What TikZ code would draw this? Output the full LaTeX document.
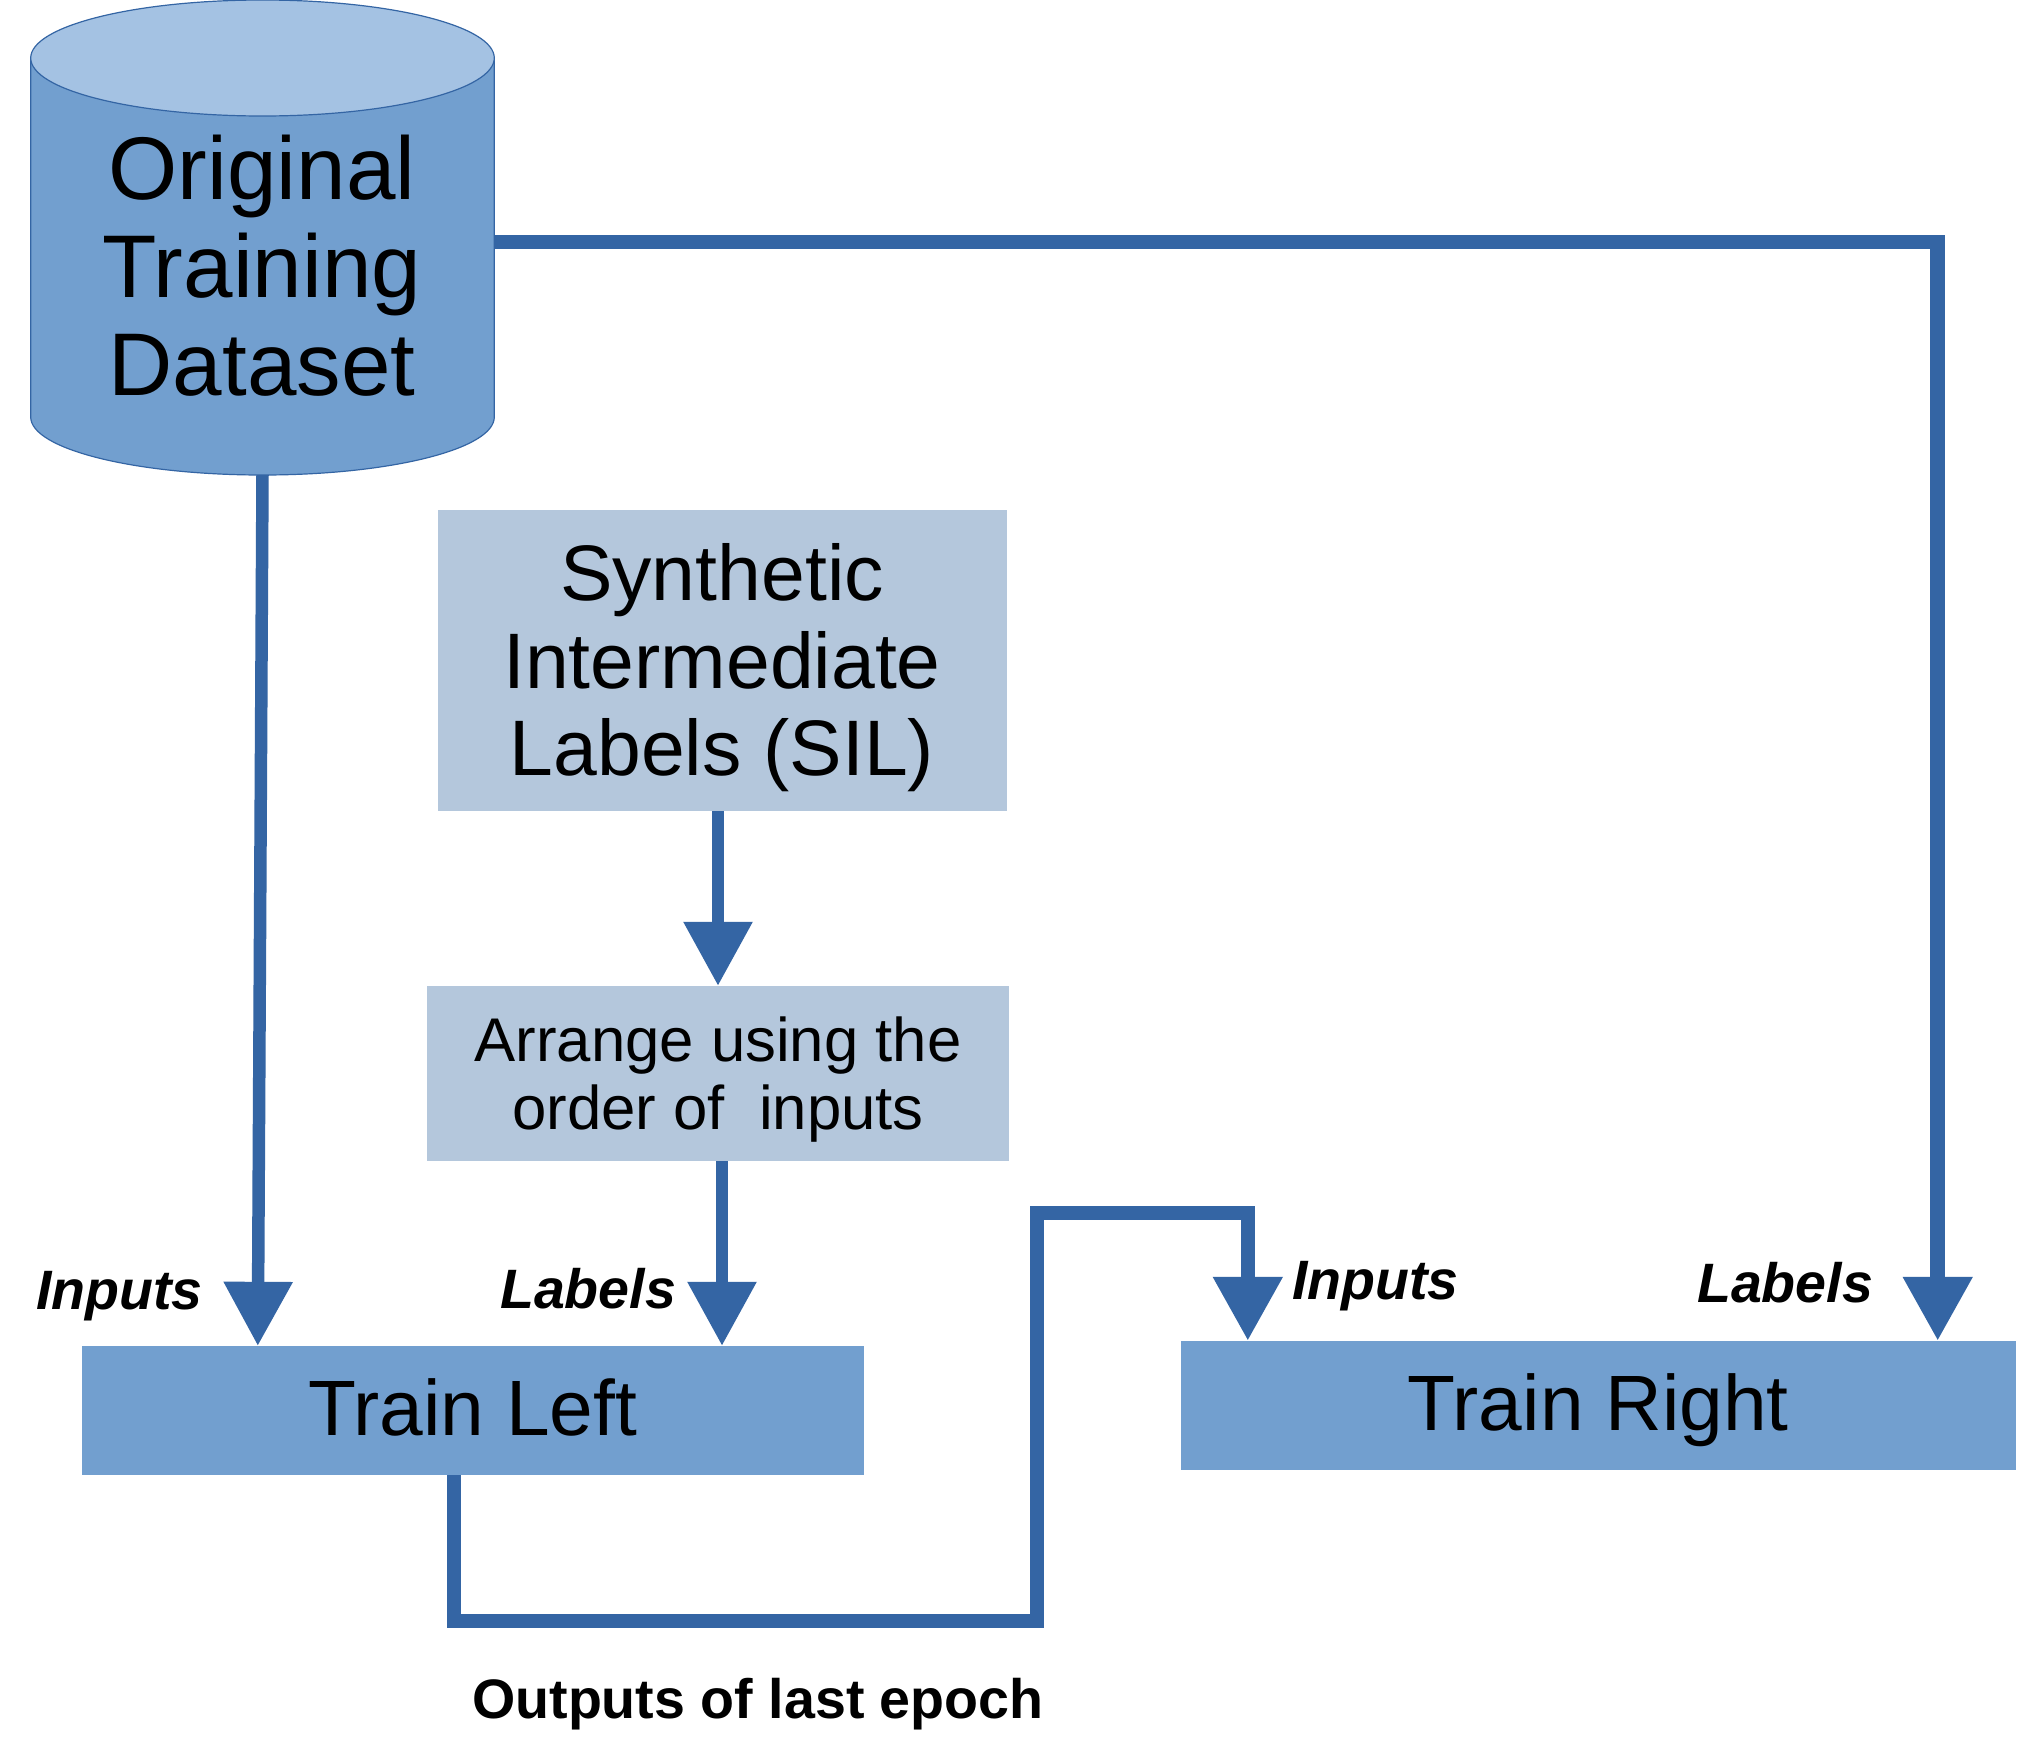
\documentclass[tikz,border=0pt]{standalone}
\usepackage{fontspec}
\setmainfont{Liberation Sans}
\usetikzlibrary{arrows.meta,calc}
\definecolor{edgeblue}{HTML}{3465A4}
\definecolor{midblue}{HTML}{729FCF}
\definecolor{topblue}{HTML}{A4C2E3}
\definecolor{paleblue}{HTML}{B4C7DC}
\begin{document}
\begin{tikzpicture}[x=1pt,y=-1pt,
  >={Triangle[length=64pt,width=66pt]},
  conn/.style={draw=edgeblue, line width=14.5pt},
  stem/.style={draw=edgeblue, line width=12.5pt},
  box/.style={rectangle, inner sep=0pt, draw=none},
  txt/.style={inner sep=0pt, anchor=base},
  lab/.style={inner sep=0pt, anchor=base, font=\fontsize{55.5}{60}\selectfont\bfseries\itshape}]
\fill[white] (0,0) rectangle (2018,1751);
\useasboundingbox (0,0) rectangle (2018,1751);

% cylinder
\node[box, minimum width=463.6pt, minimum height=475pt] (db) at (262.5,237.5) {};
\path[fill=midblue, draw=edgeblue, line width=1.2pt]
  (30.7,58) -- (30.7,417)
  .. controls (30.7,449) and (134.5,475) .. (262.5,475)
  .. controls (390.5,475) and (494.3,449) .. (494.3,417)
  -- (494.3,58) -- cycle;
\path[fill=topblue, draw=edgeblue, line width=1.2pt] (262.5,58) ellipse[x radius=231.8pt, y radius=58pt];
\node[txt, font=\fontsize{89}{98}\selectfont] (dbtext) at (262,199)
  {\begin{tabular}[t]{@{}c@{}}Original\\Training\\Dataset\end{tabular}};

% boxes
\node[box, fill=paleblue, minimum width=569pt, minimum height=301pt] (sil) at (722,660.25) {};
\node[txt, font=\fontsize{78.7}{87.5}\selectfont] (siltext) at (722,600.7)
  {\begin{tabular}[t]{@{}c@{}}Synthetic\\Intermediate\\Labels (SIL)\end{tabular}};
\node[box, fill=paleblue, minimum width=582pt, minimum height=175pt] (arr) at (718,1073.5) {};
\node[txt, font=\fontsize{61.7}{68}\selectfont] (arrtext) at (718,1061)
  {\begin{tabular}[t]{@{}c@{}}Arrange using the\\order of\ \ inputs\end{tabular}};
\node[box, fill=midblue, minimum width=781.6pt, minimum height=129pt,
  font=\fontsize{78.5}{88}\selectfont, text height=50pt, text depth=0pt] (tl) at (472.8,1410.5) {Train Left};
\node[box, fill=midblue, minimum width=834.5pt, minimum height=129pt,
  font=\fontsize{78.5}{88}\selectfont, text height=50pt, text depth=0pt] (tr) at (1598.25,1405.5) {Train Right};

% labels
\node[lab] (inl) at (119.5,1309) {Inputs};
\node[lab] (labl) at (588,1308) {Labels};
\node[lab] (inr) at (1375.5,1299) {Inputs};
\node[lab] (labr) at (1785,1302) {Labels};
\node[txt, font=\fontsize{55.6}{60}\selectfont\bfseries] (outl) at (758,1718) {Outputs of last epoch};

% connectors
\draw[stem,->] (db.south) -- ([xshift=176pt]tl.north west);
\draw[conn,->] ([yshift=-4.5pt]db.east) -| ([xshift=-78pt]tr.north east);
\draw[stem,->] (arr.north |- sil.south) -- (arr.north);
\draw[stem,->] ([xshift=4pt]arr.south) -- ([xshift=4pt]arr.south |- tl.north);
\coordinate (c1) at (1037,1621);
\coordinate (c2) at (1037,1213);
\draw[conn,->] ([xshift=-19pt]tl.south) |- (c1) -- (c2) -| ([xshift=67pt]tr.north west);
\end{tikzpicture}
\end{document}
